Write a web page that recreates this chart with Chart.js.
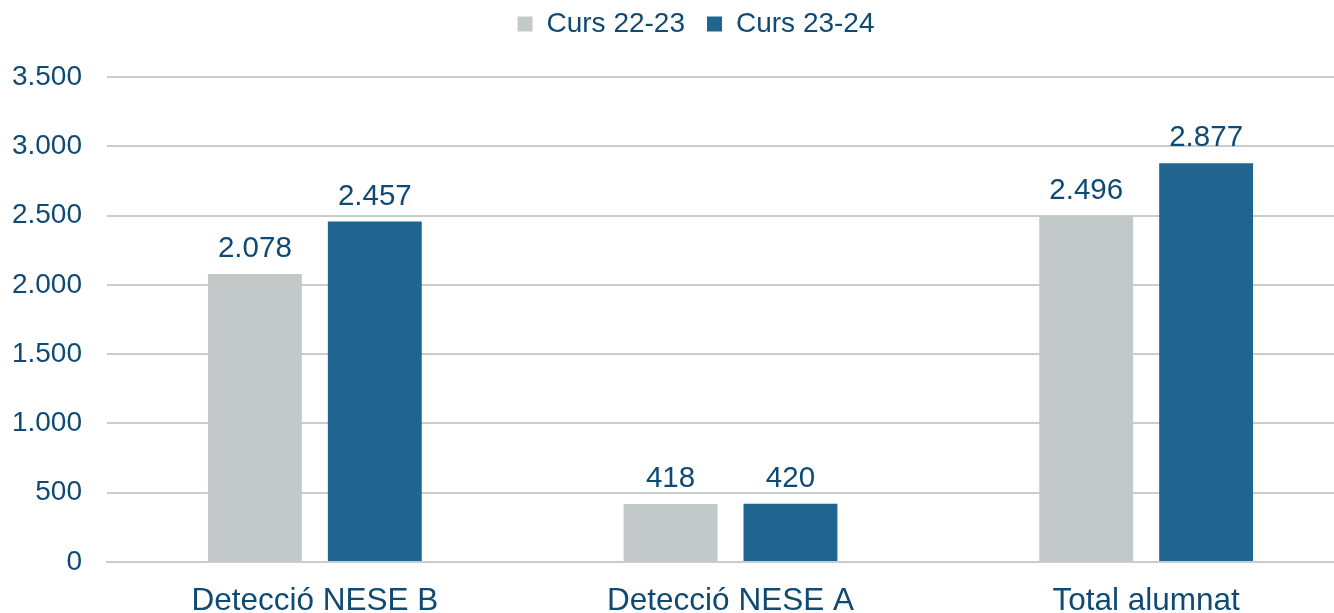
<!DOCTYPE html>
<html>
<head>
<meta charset="utf-8">
<script src="https://cdn.jsdelivr.net/npm/chart.js@4/dist/chart.umd.min.js"></script>
<style>
  html, body { margin: 0; padding: 0; background: #ffffff; overflow: hidden; }
  /* the source picture is cropped on the right, so the canvas runs past the window */
  #wrap { width: 1334px; height: 613px; overflow: hidden; }
</style>
</head>
<body>
<div id="wrap"><canvas id="chartCanvas" width="1354" height="613"></canvas></div>
<script>
const CATEGORIES   = ['Detecció NESE B', 'Detecció NESE A', 'Total alumnat'];
const SERIES_NAMES = ['Curs 22-23', 'Curs 23-24'];
const CURS_22_23   = [2078, 418, 2496];
const CURS_23_24   = [2457, 420, 2877];
const Y_TICKS      = [0, 500, 1000, 1500, 2000, 2500, 3000, 3500];

const TEXT_COLOR = '#0F4A74';
const GRID_COLOR = '#C9CCCD';
const FONT       = 'Liberation Sans, Arial, sans-serif';

var formatNumber = function formatNumber(value) {
   return String(Math.round(value)).replace(/\B(?=(\d{3})+(?!\d))/g, '.');
};

// draws the value above each bar
var valueLabels = {
   id: 'valueLabels',
   afterDatasetsDraw(chart) {
      const ctx = chart.ctx;
      ctx.save();
      ctx.font = '29.5px ' + FONT;
      ctx.fillStyle = TEXT_COLOR;
      ctx.textAlign = 'center';
      ctx.textBaseline = 'alphabetic';
      chart.data.datasets.forEach((dataset, i) => {
         chart.getDatasetMeta(i).data.forEach((bar, j) => {
            ctx.fillText(formatNumber(dataset.data[j]), bar.x, bar.y - 17);
         });
      });
      ctx.restore();
   }
};

// leaves extra room below the legend and nudges it into place
var legendSpace = {
   id: 'legendSpace',
   afterInit(chart) {
      const fit = chart.legend.fit;
      chart.legend.fit = function () {
         fit.call(this);
         this.height += 13;
      };
   },
   afterLayout(chart) {
      chart.legend.left   += 19;
      chart.legend.right  += 19;
      chart.legend.top    -= 16;
      chart.legend.bottom -= 16;
   }
};

var chartConfig = {
   type: 'bar',
   data: {
      labels: CATEGORIES,
      datasets: [{
         label: SERIES_NAMES[0],
         data: CURS_22_23,
         backgroundColor: '#C3C8C8'
      }, {
         label: SERIES_NAMES[1],
         data: CURS_23_24,
         backgroundColor: '#1F6590'
      }]
   },
   options: {
      responsive: false,
      animation: false,
      categoryPercentage: 0.577,
      barPercentage: 0.783,
      layout: { padding: { top: 4, right: 0, bottom: 0, left: 0 } },
      scales: {
         x: {
            afterFit: axis => { axis.height = 51; },
            grid: { display: false, drawTicks: false },
            border: { color: GRID_COLOR, width: 2 },
            ticks: {
               color: TEXT_COLOR,
               font: { family: FONT, size: 31.5 },
               padding: 20
            }
         },
         y: {
            min: 0,
            max: 3500,
            afterBuildTicks: axis => { axis.ticks = Y_TICKS.map(v => ({ value: v })); },
            afterFit: axis => { axis.width = 107; },
            grid: { color: GRID_COLOR, lineWidth: 2, drawTicks: false },
            border: { display: false },
            ticks: {
               color: TEXT_COLOR,
               font: { family: FONT, size: 28 },
               padding: 25,
               callback: value => formatNumber(value)
            }
         }
      },
      plugins: {
         legend: {
            position: 'top',
            labels: {
               color: TEXT_COLOR,
               font: { family: FONT, size: 28 },
               boxWidth: 15,
               boxHeight: 15,
               padding: 22
            }
         },
         tooltip: { enabled: false }
      }
   },
   plugins: [valueLabels, legendSpace]
};

new Chart(document.getElementById('chartCanvas'), chartConfig);
</script>
</body>
</html>
